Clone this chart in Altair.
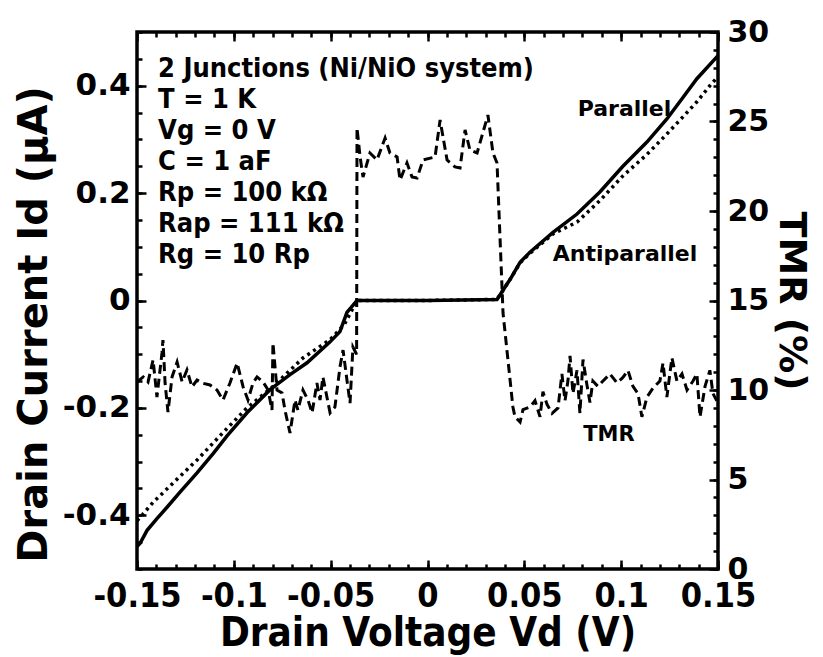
import altair as alt
import pandas as pd

# ---------------- data ----------------
V_par = [-0.15, -0.1484, -0.1448, -0.1397, -0.1345, -0.1278, -0.119, -0.1107, -0.1035,
         -0.0932, -0.0813, -0.071, -0.0622, -0.0503, -0.0452, -0.0416, -0.0364,
         0.0, 0.0359, 0.0426, 0.0478, 0.0529, 0.0648, 0.0772, 0.089, 0.1009, 0.1133,
         0.1236, 0.1319, 0.1391, 0.15]
I_par = [-0.458, -0.452, -0.428, -0.406, -0.385, -0.357, -0.321, -0.285, -0.252,
         -0.209, -0.166, -0.138, -0.116, -0.077, -0.058, -0.022, 0.0,
         0.0, 0.002, 0.039, 0.071, 0.09, 0.127, 0.161, 0.202, 0.25, 0.295,
         0.338, 0.378, 0.413, 0.456]

V_anti = [-0.15, -0.1484, -0.1417, -0.1314, -0.119, -0.1056, -0.0932, -0.0797, -0.0643,
          -0.0503, -0.043, -0.0364, 0.0, 0.0359, 0.0426, 0.0478, 0.0529, 0.0648,
          0.0772, 0.089, 0.1009, 0.1133, 0.1236, 0.1319, 0.1391, 0.1458, 0.15]
I_anti = [-0.41, -0.404, -0.376, -0.34, -0.297, -0.246, -0.2, -0.16, -0.107,
          -0.073, -0.045, 0.0, 0.0, 0.002, 0.039, 0.07, 0.088, 0.124,
          0.146, 0.186, 0.232, 0.272, 0.31, 0.342, 0.37, 0.4, 0.417]

V_tmr = [-0.1499, -0.1468, -0.1443, -0.1417, -0.1397, -0.1371, -0.1366, -0.1355, -0.134,
         -0.1319, -0.1293, -0.1267, -0.1242, -0.1216, -0.119, -0.1164, -0.1123, -0.1087,
         -0.1056, -0.102, -0.0983, -0.0952, -0.0927, -0.0901, -0.088, -0.0849, -0.0823,
         -0.0803, -0.0798, -0.0777, -0.0751, -0.0736, -0.071, -0.0684, -0.0669, -0.0643,
         -0.0617, -0.0596, -0.0571, -0.0555, -0.054, -0.0503, -0.0478, -0.0452, -0.0436,
         -0.0416, -0.04, -0.0385, -0.0366, -0.0364,
         -0.0348, -0.0333, -0.0297, -0.0261, -0.0219, -0.0194, -0.0157, -0.0142, -0.0106,
         -0.008, -0.0054, -0.0023, 0.0039, 0.0065, 0.0101, 0.0142, 0.0168, 0.0194,
         0.0219, 0.0256, 0.0312, 0.0338, 0.0359,
         0.039, 0.0441, 0.0452, 0.0478, 0.0493, 0.0529, 0.0555, 0.0581, 0.0596, 0.0617,
         0.0643, 0.0674, 0.0694, 0.071, 0.0725, 0.0736, 0.0751, 0.0772, 0.0787, 0.0803,
         0.0823, 0.0839, 0.0854, 0.088, 0.0906, 0.0942, 0.0978, 0.1009, 0.1035, 0.1061,
         0.1087, 0.1107, 0.1133, 0.1164, 0.12, 0.1216, 0.1236, 0.1262, 0.1288, 0.1314,
         0.134, 0.1371, 0.1391, 0.1407, 0.1433, 0.1458, 0.1474, 0.1494]
TMR = [10.45, 10.73, 10.45, 11.68, 9.61, 12.07, 12.79, 10.39, 8.77,
       10.73, 11.56, 10.45, 11.12, 10.17, 10.56, 10.39, 10.28, 10.0,
       9.44, 10.39, 11.51, 10.17, 9.44, 10.39, 10.73, 10.45, 10.0,
       8.88, 12.63, 10.0, 9.83, 8.88, 7.6, 9.44, 8.88, 10.0,
       9.44, 8.72, 10.39, 9.44, 10.73, 8.72, 9.05, 11.28, 12.23,
       10.56, 9.27, 12.4, 12.0, 24.64,
       23.02, 21.9, 23.24, 22.85, 24.08, 23.24, 23.02, 21.73, 22.68,
       21.9, 21.84, 22.85, 23.02, 25.08, 22.85, 22.46, 22.4, 24.53,
       23.41, 23.24, 25.36, 23.24, 22.68,
       14.3, 9.05, 8.49, 8.21, 8.9, 9.05, 9.4, 8.5, 9.9, 9.2,
       8.7, 9.0, 10.9, 9.4, 10.5, 11.9, 9.8, 11.1, 8.7, 11.7,
       10.3, 9.3, 10.5, 10.2, 10.5, 10.9, 10.4, 10.7, 11.1, 10.2,
       9.8, 8.5, 9.6, 10.1, 10.5, 11.5, 9.6, 11.8, 10.5, 10.9,
       10.0, 10.5, 10.9, 8.5, 10.2, 11.1, 9.8, 9.4]

info_lines = ["2 Junctions (Ni/NiO system)", "T = 1 K", "Vg = 0 V", "C = 1 aF",
              "Rp = 100 k\u03a9", "Rap = 111 k\u03a9", "Rg = 10 Rp"]
curve_labels = ["Parallel", "Antiparallel"]
curve_label_V = [0.1017, 0.102]
curve_label_I = [0.357, 0.087]
tmr_label = ["TMR"]
tmr_label_V = [0.0937]
tmr_label_T = [7.5]

x_major = [-0.15, -0.1, -0.05, 0, 0.05, 0.1, 0.15]
x_minor = [round(-0.15 + 0.01 * i, 2) for i in range(31)]
yl_major = [-0.4, -0.2, 0, 0.2, 0.4]
yl_minor = [round(-0.5 + 0.05 * i, 2) for i in range(21)]
yr_major = [0, 5, 10, 15, 20, 25, 30]
yr_minor = list(range(0, 31))

X_DOM = [-0.15, 0.15]
I_DOM = [-0.5, 0.5]
T_DOM = [0, 30]

FONT = "DejaVu Sans"
COND = "DejaVu Sans Condensed"
MAJ, MIN = 9, 5

par_df = pd.DataFrame({"V": V_par, "I": I_par})
anti_df = pd.DataFrame({"V": V_anti, "I": I_anti})
tmr_df = pd.DataFrame({"V": V_tmr, "T": TMR})
info_df = pd.DataFrame({"V": [-0.1391], "I": [0.455]})
clab_df = pd.DataFrame({"V": curve_label_V, "I": curve_label_I, "txt": curve_labels})
tlab_df = pd.DataFrame({"V": tmr_label_V, "T": tmr_label_T, "txt": tmr_label})


def tick_axis(orient, values, size, **kw):
    base = dict(orient=orient, values=values, tickSize=size, offset=-size,
                domain=False, grid=False, tickColor="black", tickWidth=2.5)
    base.update(kw)
    return alt.Axis(**base)


xs = alt.Scale(domain=X_DOM, nice=False, zero=False)
ys_i = alt.Scale(domain=I_DOM, nice=False, zero=False)
ys_t = alt.Scale(domain=T_DOM, nice=False, zero=False)

lab_kw = dict(labelFont=FONT, labelFontWeight="bold", labelColor="black")

par = alt.Chart(par_df).mark_line(color="black", strokeWidth=3.5).encode(
    x=alt.X("V:Q", scale=xs, title="Drain Voltage Vd (V)",
            axis=tick_axis("bottom", x_major, MAJ, labelFont=COND, labelFontSize=34,
                           labelFontWeight="bold", labelColor="black", labelPadding=10,
                           labelExpr="datum.value == 0 ? '0' : '' + datum.value",
                           labelFlush=False, labelOverlap=False,
                           titleFont=COND, titleFontSize=40, titleFontWeight="bold",
                           titleColor="black", titlePadding=0)),
    y=alt.Y("I:Q", scale=ys_i, title="Drain Current Id (\u03bcA)",
            axis=tick_axis("left", yl_major, MAJ, labelPadding=7, labelFontSize=31,
                           labelExpr="datum.value == 0 ? '0' : '' + datum.value",
                           labelOverlap=False, titleY=292,
                           titleFont=FONT, titleFontSize=40, titleFontWeight="bold",
                           titleColor="black", titlePadding=8, **lab_kw)),
)

anti = alt.Chart(anti_df).mark_line(color="black", strokeWidth=3.5, strokeDash=[3, 4]).encode(
    x=alt.X("V:Q", scale=xs, title=None, axis=tick_axis("bottom", x_minor, MIN, labels=False)),
    y=alt.Y("I:Q", scale=ys_i, title=None, axis=tick_axis("left", yl_minor, MIN, labels=False)),
)

tmr = alt.Chart(tmr_df).mark_line(color="black", strokeWidth=3, strokeDash=[9, 5]).encode(
    x=alt.X("V:Q", scale=xs, title=None, axis=tick_axis("top", x_major, MAJ, labels=False)),
    y=alt.Y("T:Q", scale=ys_t, title="TMR (%)",
            axis=tick_axis("right", yr_major, MAJ, labelPadding=9, labelOverlap=False,
                           labelFontSize=30,
                           titleFont=FONT, titleFontSize=38, titleFontWeight="bold",
                           titleColor="black", titlePadding=3, **lab_kw)),
)

tlab = alt.Chart(tlab_df).mark_text(font=FONT, fontSize=21, fontWeight="bold", color="black").encode(
    x=alt.X("V:Q", scale=xs, title=None, axis=tick_axis("top", x_minor, MIN, labels=False)),
    y=alt.Y("T:Q", scale=ys_t, title=None, axis=tick_axis("right", yr_minor, MIN, labels=False)),
    text="txt:N",
)

clab = alt.Chart(clab_df).mark_text(font=FONT, fontSize=22, fontWeight="bold", color="black").encode(
    x=alt.X("V:Q", scale=xs, axis=None),
    y=alt.Y("I:Q", scale=ys_i, axis=None),
    text="txt:N",
)

info = alt.Chart(info_df).mark_text(text=info_lines, font=COND, fontSize=27, fontWeight="bold",
                                    color="black", align="left", baseline="top",
                                    lineHeight=31).encode(
    x=alt.X("V:Q", scale=xs, axis=None),
    y=alt.Y("I:Q", scale=ys_i, axis=None),
)

chart = alt.layer(par, anti, tmr, tlab, clab, info).resolve_scale(
    y="independent"
).resolve_axis(
    x="independent", y="independent"
).properties(
    width=581, height=537, autosize="none",
    padding={"left": 129, "top": 24, "right": 97, "bottom": 88},
).configure_view(stroke="black", strokeWidth=3.5)

chart.save("out.html", embed_options={"renderer": "svg", "actions": False})
